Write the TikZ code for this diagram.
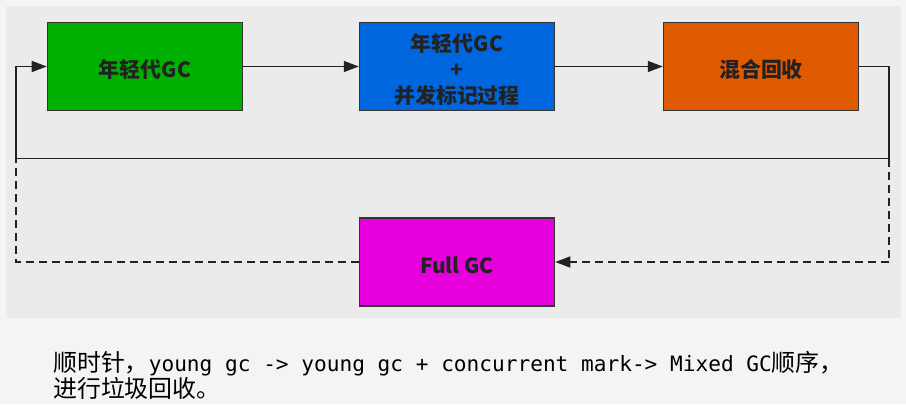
\documentclass[tikz,border=0pt]{standalone}
\usepackage{fontspec}
\setmainfont{Noto Sans CJK SC}
\newfontfamily\cjk{Noto Sans CJK SC}
\newfontfamily\mono{DejaVu Sans Mono}
\usetikzlibrary{arrows.meta}
\definecolor{outerbg}{HTML}{F4F4F4}
\definecolor{panel}{HTML}{EBEBEB}
\definecolor{gcgreen}{HTML}{00B000}
\definecolor{gcblue}{HTML}{0066DD}
\definecolor{gcorange}{HTML}{E05A00}
\definecolor{gcmag}{HTML}{E600DC}
\definecolor{ink}{HTML}{222222}
\definecolor{edge}{HTML}{333333}
\newcommand\cjkpart[1]{{\cjk\fontsize{24}{26}\selectfont #1}}
\newcommand\monopart[1]{{\mono\fontsize{21.2}{26}\selectfont #1}}
\begin{document}
\begin{tikzpicture}[x=1bp,y=-1bp,
  box/.style={draw=edge, line width=1.5bp, minimum width=195bp, minimum height=88bp,
    inner sep=0pt},
  lbl/.style={yshift=-3bp, inner sep=0pt, font=\fontsize{21}{26}\selectfont\bfseries,
    text=ink, align=center},
  link/.style={draw=ink, line width=1.5bp},
  tip/.style={-{Triangle[length=15bp,width=11bp]}},
  dashline/.style={dash pattern=on 8bp off 5bp},
  note/.style={anchor=base west, inner sep=0pt, text=black}]
\useasboundingbox (0,0) rectangle (906,404);
\fill[outerbg] (0,0) rectangle (906,404);
\fill[panel] (6,6) rectangle (901,318);

\node[box, fill=gcgreen,  label={[lbl]center:年轻代GC}] (young) at (145,66.5) {};
\node[box, fill=gcblue,   label={[lbl]center:年轻代GC\\+\\并发标记过程}] (conc) at (457,66.5) {};
\node[box, fill=gcorange, label={[lbl]center:混合回收}] (mixed) at (761,66.5) {};
\node[box, fill=gcmag,    label={[lbl]center:Full GC}] (full) at (457,262) {};

\coordinate (rmid) at (889,158.5);
\coordinate (lmid) at (16,158.5);
\coordinate (rlow) at (889,262);
\coordinate (llow) at (16,262);

\draw[link, tip] (young) -- (conc);
\draw[link, tip] (conc) -- (mixed);
\draw[link, tip] (mixed.east) -| (rmid) -- (lmid) |- (young.west);
\draw[link, dashline, tip] (rmid) -- (rlow) -- (full.east);
\draw[link, dashline] (full.west) -- (llow) -- (lmid);

\node[note] (line1) at (53,371) {\cjkpart{顺时针，}\monopart{young gc -> young gc + concurrent mark-> Mixed GC}\cjkpart{顺序，}};
\node[note] (line2) at (53,397) {\cjkpart{进行垃圾回收。}};
\end{tikzpicture}
\end{document}
